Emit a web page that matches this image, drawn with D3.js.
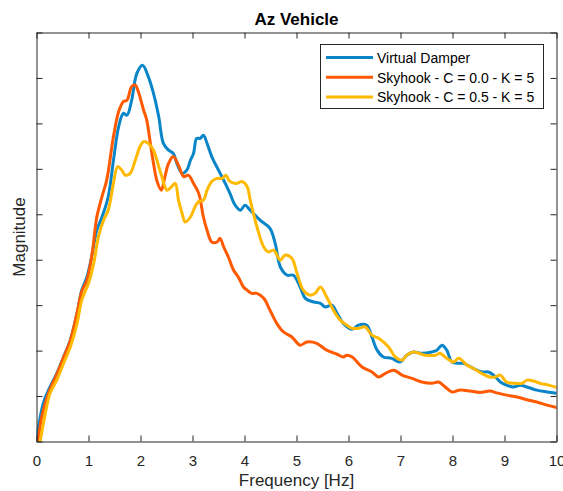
<!DOCTYPE html>
<html>
<head>
<meta charset="utf-8">
<script src="https://cdn.jsdelivr.net/npm/d3@7"></script>
<style>
  html, body { margin: 0; padding: 0; background: #fff; }
  svg { display: block; font-family: "Liberation Sans", Arial, Helvetica, sans-serif; }
</style>
</head>
<body>
<svg id="chart" width="563" height="491"></svg>
<script>
// Vertical acceleration response of the vehicle body vs. frequency
const chartTitle = "Az Vehicle";
const xLabel = "Frequency [Hz]";
const yLabel = "Magnitude";

const xTicks = [0, 1, 2, 3, 4, 5, 6, 7, 8, 9, 10];
const yTicks = [0, 0.1, 0.2, 0.3, 0.4, 0.5, 0.6, 0.7, 0.8, 0.9];

const seriesNames = ["Virtual Damper", "Skyhook - C = 0.0 - K = 5", "Skyhook - C = 0.5 - K = 5"];
const seriesColors = ["#0A85C8", "#FF5A00", "#FFB900"];

// Virtual Damper
const vdFreq = [0, 0.13, 0.26, 0.39, 0.52, 0.65, 0.78, 0.87, 0.97, 1.06, 1.16, 1.26, 1.38, 1.48, 1.58, 1.67, 1.74, 1.83, 1.93, 2.04,
  2.15, 2.25, 2.35, 2.44, 2.54, 2.63, 2.70, 2.80, 2.89, 2.96, 3.02, 3.08, 3.15, 3.21, 3.28, 3.37, 3.50, 3.63, 3.72, 3.82,
  3.92, 4.01, 4.11, 4.30, 4.49, 4.59, 4.69, 4.82, 4.94, 5.07, 5.17, 5.33, 5.46, 5.55, 5.68, 5.78, 5.90, 6.07, 6.19, 6.35,
  6.45, 6.55, 6.67, 6.83, 6.99, 7.12, 7.25, 7.41, 7.60, 7.70, 7.80, 7.89, 7.99, 8.12, 8.21, 8.40, 8.56, 8.69, 8.79, 8.92,
  9.04, 9.17, 9.30, 9.43, 9.62, 9.82, 10.0];
const vdMag = [0.003, 0.084, 0.120, 0.150, 0.186, 0.223, 0.282, 0.333, 0.362, 0.406, 0.465, 0.494, 0.539, 0.619, 0.693, 0.722, 0.718, 0.751, 0.810, 0.828,
  0.803, 0.766, 0.715, 0.656, 0.641, 0.634, 0.612, 0.590, 0.597, 0.619, 0.634, 0.667, 0.667, 0.674, 0.656, 0.627, 0.597, 0.568, 0.546, 0.520,
  0.509, 0.520, 0.509, 0.487, 0.469, 0.436, 0.384, 0.366, 0.366, 0.340, 0.315, 0.307, 0.304, 0.296, 0.300, 0.282, 0.260, 0.247, 0.256, 0.256,
  0.230, 0.201, 0.186, 0.183, 0.175, 0.190, 0.197, 0.194, 0.197, 0.201, 0.212, 0.201, 0.175, 0.172, 0.172, 0.161, 0.153, 0.153, 0.146, 0.131,
  0.124, 0.120, 0.124, 0.120, 0.113, 0.109, 0.106];

// Skyhook, C = 0.0, K = 5
const shC0Freq = [0.03, 0.10, 0.23, 0.39, 0.52, 0.65, 0.78, 0.87, 0.97, 1.07, 1.16, 1.26, 1.35, 1.48, 1.58, 1.67, 1.74, 1.83, 1.90, 1.96,
  2.06, 2.12, 2.19, 2.25, 2.32, 2.40, 2.47, 2.54, 2.63, 2.73, 2.83, 2.92, 3.02, 3.12, 3.21, 3.28, 3.37, 3.47, 3.53, 3.60,
  3.69, 3.79, 3.88, 3.98, 4.05, 4.14, 4.24, 4.37, 4.49, 4.62, 4.75, 4.91, 5.07, 5.20, 5.39, 5.58, 5.78, 5.90, 5.97, 6.07,
  6.26, 6.45, 6.58, 6.71, 6.87, 7.03, 7.22, 7.41, 7.60, 7.73, 7.86, 7.99, 8.12, 8.21, 8.34, 8.53, 8.72, 8.85, 9.04, 9.24,
  9.43, 9.62, 9.82, 10.0];
const shC0Mag = [0.0, 0.054, 0.106, 0.148, 0.185, 0.222, 0.283, 0.330, 0.355, 0.414, 0.494, 0.539, 0.575, 0.671, 0.726, 0.748, 0.751, 0.781, 0.784, 0.769,
  0.729, 0.707, 0.656, 0.612, 0.572, 0.553, 0.583, 0.612, 0.627, 0.608, 0.583, 0.586, 0.568, 0.546, 0.494, 0.465, 0.439, 0.439, 0.447, 0.428,
  0.406, 0.377, 0.362, 0.340, 0.333, 0.326, 0.326, 0.315, 0.289, 0.260, 0.241, 0.230, 0.212, 0.219, 0.216, 0.201, 0.192, 0.186, 0.190, 0.186,
  0.164, 0.153, 0.142, 0.150, 0.157, 0.146, 0.139, 0.131, 0.128, 0.131, 0.120, 0.109, 0.113, 0.113, 0.111, 0.108, 0.111, 0.107, 0.102, 0.098,
  0.092, 0.087, 0.080, 0.075];

// Skyhook, C = 0.5, K = 5
const shC05Freq = [0.07, 0.17, 0.26, 0.39, 0.52, 0.65, 0.78, 0.87, 1.00, 1.10, 1.19, 1.29, 1.38, 1.48, 1.56, 1.64, 1.71, 1.80, 1.90, 1.99,
  2.06, 2.15, 2.25, 2.35, 2.41, 2.51, 2.60, 2.67, 2.73, 2.80, 2.86, 2.96, 3.05, 3.12, 3.21, 3.28, 3.37, 3.47, 3.57, 3.64,
  3.72, 3.85, 3.95, 4.05, 4.11, 4.24, 4.37, 4.46, 4.56, 4.69, 4.78, 4.91, 5.01, 5.13, 5.26, 5.36, 5.46, 5.58, 5.71, 5.84,
  5.97, 6.07, 6.19, 6.32, 6.45, 6.58, 6.77, 6.90, 7.03, 7.12, 7.25, 7.48, 7.67, 7.76, 7.89, 8.02, 8.12, 8.28, 8.40, 8.56,
  8.72, 8.82, 8.92, 9.04, 9.21, 9.34, 9.43, 9.56, 9.69, 9.85, 10.0];
const shC05Mag = [0.0, 0.062, 0.106, 0.135, 0.172, 0.208, 0.260, 0.311, 0.348, 0.392, 0.450, 0.487, 0.509, 0.568, 0.605, 0.597, 0.586, 0.590, 0.619, 0.649,
  0.660, 0.656, 0.641, 0.605, 0.583, 0.553, 0.561, 0.568, 0.531, 0.502, 0.483, 0.494, 0.517, 0.528, 0.531, 0.553, 0.572, 0.579, 0.579, 0.586,
  0.572, 0.568, 0.572, 0.561, 0.531, 0.472, 0.428, 0.417, 0.421, 0.399, 0.410, 0.403, 0.370, 0.333, 0.322, 0.326, 0.340, 0.318, 0.289, 0.267,
  0.256, 0.249, 0.249, 0.252, 0.234, 0.227, 0.208, 0.186, 0.179, 0.190, 0.197, 0.190, 0.190, 0.194, 0.183, 0.175, 0.183, 0.168, 0.161, 0.150,
  0.142, 0.142, 0.146, 0.131, 0.128, 0.128, 0.135, 0.133, 0.128, 0.124, 0.119];

const series = [
  { name: seriesNames[0], color: seriesColors[0], points: d3.zip(vdFreq, vdMag) },
  { name: seriesNames[1], color: seriesColors[1], points: d3.zip(shC0Freq, shC0Mag) },
  { name: seriesNames[2], color: seriesColors[2], points: d3.zip(shC05Freq, shC05Mag) }
];

const svg = d3.select("#chart");
const plot = { left: 36.5, top: 32.5, right: 556.5, bottom: 441.5 };
const axisColor = "#262626";
const tickLen = 6;

const x = d3.scaleLinear().domain([0, 10]).range([plot.left, plot.right]);
const y = d3.scaleLinear().domain([0, 0.9]).range([plot.bottom, plot.top]);

svg.append("defs").append("clipPath").attr("id", "plot-clip")
  .append("rect")
  .attr("x", plot.left).attr("y", plot.top)
  .attr("width", plot.right - plot.left).attr("height", plot.bottom - plot.top);

// Data lines
const line = d3.line()
  .x(d => x(d[0]))
  .y(d => y(d[1]))
  .curve(d3.curveCatmullRom.alpha(0.5));

svg.append("g").attr("clip-path", "url(#plot-clip)")
  .selectAll("path")
  .data(series)
  .join("path")
  .attr("d", d => line(d.points))
  .attr("fill", "none")
  .attr("stroke", d => d.color)
  .attr("stroke-width", 3)
  .attr("stroke-linejoin", "round")
  .attr("stroke-linecap", "round");

// Axes: bottom with labels, left with unlabelled ticks, mirrored ticks on top/right
const bottomAxis = d3.axisBottom(x).tickValues(xTicks).tickFormat(d3.format("d")).tickSizeInner(-tickLen).tickSizeOuter(0).tickPadding(14);
const topAxis = d3.axisTop(x).tickValues(xTicks).tickFormat("").tickSizeInner(-tickLen).tickSizeOuter(0);
const leftAxis = d3.axisLeft(y).tickValues(yTicks).tickFormat("").tickSizeInner(-tickLen).tickSizeOuter(0);
const rightAxis = d3.axisRight(y).tickValues(yTicks).tickFormat("").tickSizeInner(-tickLen).tickSizeOuter(0);

function styleAxis(g) {
  g.selectAll(".domain").attr("stroke", axisColor).attr("stroke-width", 1);
  g.selectAll(".tick line").attr("stroke", axisColor).attr("stroke-width", 1);
  g.selectAll(".tick text").attr("fill", axisColor).attr("font-size", 15)
    .attr("font-family", "'Liberation Sans', Arial, Helvetica, sans-serif");
}

svg.append("g").attr("transform", `translate(0,${plot.bottom})`).call(bottomAxis).call(styleAxis);
svg.append("g").attr("transform", `translate(0,${plot.top})`).call(topAxis).call(styleAxis);
svg.append("g").attr("transform", `translate(${plot.left},0)`).call(leftAxis).call(styleAxis);
svg.append("g").attr("transform", `translate(${plot.right},0)`).call(rightAxis).call(styleAxis);

// Titles
const cx = (plot.left + plot.right) / 2;
svg.append("text")
  .attr("x", cx).attr("y", 24.5)
  .attr("text-anchor", "middle")
  .attr("font-size", 17).attr("font-weight", "bold")
  .attr("fill", "#000")
  .text(chartTitle);

svg.append("text")
  .attr("x", cx).attr("y", 485.5)
  .attr("text-anchor", "middle")
  .attr("font-size", 17)
  .attr("fill", axisColor)
  .text(xLabel);

svg.append("text")
  .attr("transform", `translate(25,${(plot.top + plot.bottom) / 2}) rotate(-90)`)
  .attr("text-anchor", "middle")
  .attr("font-size", 17)
  .attr("fill", axisColor)
  .text(yLabel);

// Legend
const legend = svg.append("g");
legend.append("rect")
  .attr("x", 320.5).attr("y", 44.5)
  .attr("width", 223).attr("height", 64)
  .attr("fill", "#fff")
  .attr("stroke", axisColor).attr("stroke-width", 1);

const rows = legend.selectAll("g.row")
  .data(series)
  .join("g")
  .attr("class", "row")
  .attr("transform", (d, i) => `translate(0,${57.5 + i * 19.8})`);

rows.append("line")
  .attr("x1", 326).attr("x2", 373)
  .attr("y1", 0).attr("y2", 0)
  .attr("stroke", d => d.color)
  .attr("stroke-width", 3);

rows.append("text")
  .attr("x", 377).attr("y", 5.2)
  .attr("font-size", 14)
  .attr("fill", "#000")
  .text(d => d.name);
</script>
</body>
</html>
